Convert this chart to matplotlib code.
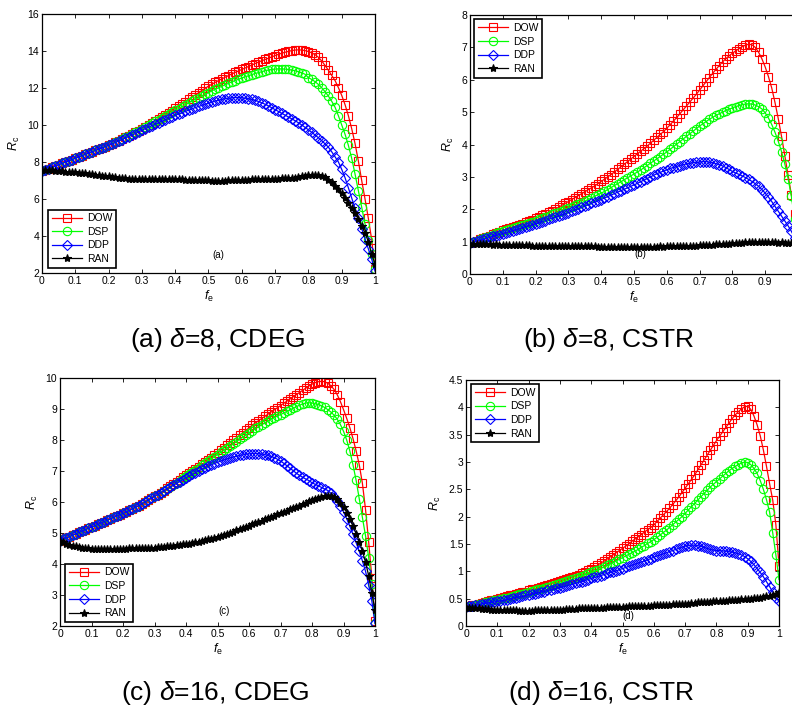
import matplotlib.pyplot as plt
import numpy as np

plt.rcParams['font.family'] = ['Liberation Sans', 'DejaVu Sans']
plt.rcParams['mathtext.fontset'] = 'custom'
plt.rcParams['mathtext.rm'] = 'Liberation Sans'
plt.rcParams['mathtext.it'] = 'Liberation Sans:italic'

# f_e grid, step 0.01
fe = np.linspace(0, 1, 101)
labels = ['DOW', 'DSP', 'DDP', 'RAN']

# (a) delta=8, CDEG
a_dow = [7.50, 7.57, 7.64, 7.71, 7.78, 7.85, 7.92, 7.99, 8.06, 8.13,
         8.20, 8.27, 8.34, 8.41, 8.48, 8.55, 8.62, 8.69, 8.76, 8.83,
         8.90, 8.98, 9.07, 9.16, 9.25, 9.34, 9.43, 9.52, 9.61, 9.70,
         9.80, 9.90, 10.01, 10.12, 10.23, 10.34, 10.45, 10.56, 10.67, 10.78,
         10.90, 11.02, 11.14, 11.26, 11.38, 11.50, 11.62, 11.74, 11.86, 11.98,
         12.10, 12.20, 12.30, 12.40, 12.49, 12.58, 12.67, 12.76, 12.84, 12.92,
         13.00, 13.08, 13.16, 13.24, 13.32, 13.40, 13.47, 13.54, 13.61, 13.68,
         13.75, 13.82, 13.88, 13.93, 13.98, 14.02, 14.05, 14.06, 14.05, 14.02,
         13.97, 13.90, 13.80, 13.66, 13.46, 13.22, 12.96, 12.68, 12.40, 12.02,
         11.60, 11.10, 10.50, 9.80, 9.00, 8.05, 7.00, 6.00, 4.95, 3.80,
         2.20]
a_dsp = [7.50, 7.57, 7.64, 7.71, 7.78, 7.85, 7.92, 7.99, 8.06, 8.13,
         8.20, 8.27, 8.34, 8.41, 8.48, 8.55, 8.62, 8.69, 8.76, 8.83,
         8.90, 8.98, 9.07, 9.16, 9.25, 9.34, 9.43, 9.52, 9.61, 9.70,
         9.79, 9.89, 9.99, 10.09, 10.19, 10.29, 10.39, 10.49, 10.59, 10.69,
         10.79, 10.89, 10.99, 11.09, 11.19, 11.29, 11.39, 11.48, 11.57, 11.66,
         11.75, 11.84, 11.93, 12.01, 12.09, 12.17, 12.25, 12.33, 12.40, 12.47,
         12.54, 12.60, 12.66, 12.72, 12.78, 12.83, 12.88, 12.93, 12.97, 13.00,
         13.02, 13.03, 13.03, 13.02, 13.00, 12.97, 12.93, 12.88, 12.82, 12.74,
         12.56, 12.46, 12.34, 12.19, 12.01, 11.80, 11.56, 11.28, 10.96, 10.50,
         10.00, 9.50, 8.90, 8.20, 7.35, 6.45, 5.55, 4.65, 3.80, 3.00,
         2.20]
a_ddp = [7.50, 7.57, 7.64, 7.71, 7.78, 7.85, 7.92, 7.99, 8.06, 8.13,
         8.20, 8.27, 8.34, 8.41, 8.48, 8.55, 8.62, 8.69, 8.76, 8.83,
         8.90, 8.97, 9.05, 9.13, 9.21, 9.29, 9.37, 9.45, 9.53, 9.62,
         9.71, 9.80, 9.88, 9.96, 10.04, 10.12, 10.20, 10.28, 10.36, 10.44,
         10.52, 10.59, 10.66, 10.73, 10.80, 10.87, 10.94, 11.00, 11.06, 11.12,
         11.18, 11.24, 11.29, 11.34, 11.38, 11.42, 11.45, 11.47, 11.48, 11.48,
         11.47, 11.45, 11.42, 11.38, 11.33, 11.27, 11.20, 11.12, 11.03, 10.93,
         10.83, 10.73, 10.63, 10.53, 10.43, 10.33, 10.23, 10.12, 10.00, 9.87,
         9.74, 9.60, 9.46, 9.31, 9.15, 8.98, 8.80, 8.55, 8.28, 8.00,
         7.60, 7.15, 6.60, 6.05, 5.50, 4.95, 4.40, 3.85, 3.30, 2.75,
         2.10]
a_ran = [7.55, 7.56, 7.55, 7.54, 7.52, 7.50, 7.49, 7.48, 7.47, 7.46,
         7.45, 7.43, 7.41, 7.38, 7.36, 7.33, 7.30, 7.28, 7.25, 7.23,
         7.22, 7.20, 7.18, 7.16, 7.14, 7.12, 7.10, 7.09, 7.09, 7.08,
         7.08, 7.09, 7.09, 7.10, 7.10, 7.09, 7.09, 7.08, 7.08, 7.07,
         7.07, 7.06, 7.06, 7.05, 7.05, 7.04, 7.03, 7.02, 7.01, 7.00,
         7.00, 6.99, 6.97, 6.95, 6.96, 6.98, 7.00, 7.02, 7.03, 7.04,
         7.04, 7.05, 7.05, 7.06, 7.06, 7.07, 7.07, 7.08, 7.08, 7.09,
         7.10, 7.10, 7.11, 7.12, 7.13, 7.14, 7.16, 7.19, 7.22, 7.25,
         7.27, 7.29, 7.30, 7.29, 7.25, 7.18, 7.05, 6.90, 6.72, 6.52,
         6.30, 6.05, 5.80, 5.52, 5.22, 4.90, 4.55, 4.15, 3.70, 3.00,
         2.50]

# (b) delta=8, CSTR
b_dow = [0.95, 0.99, 1.03, 1.07, 1.11, 1.15, 1.19, 1.23, 1.27, 1.31,
         1.35, 1.38, 1.42, 1.45, 1.49, 1.52, 1.56, 1.60, 1.64, 1.68,
         1.72, 1.76, 1.81, 1.86, 1.91, 1.96, 2.01, 2.06, 2.12, 2.18,
         2.24, 2.30, 2.36, 2.42, 2.48, 2.54, 2.60, 2.66, 2.72, 2.79,
         2.86, 2.93, 3.00, 3.07, 3.15, 3.23, 3.31, 3.39, 3.47, 3.55,
         3.63, 3.71, 3.79, 3.87, 3.95, 4.04, 4.13, 4.22, 4.31, 4.40,
         4.50, 4.61, 4.72, 4.83, 4.95, 5.07, 5.19, 5.31, 5.43, 5.55,
         5.68, 5.81, 5.94, 6.07, 6.20, 6.32, 6.44, 6.55, 6.65, 6.74,
         6.82, 6.89, 6.96, 7.02, 7.07, 7.10, 7.08, 7.00, 6.85, 6.65,
         6.40, 6.10, 5.75, 5.30, 4.80, 4.25, 3.65, 3.05, 2.45, 1.85,
         1.25]
b_dsp = [0.95, 0.99, 1.03, 1.07, 1.10, 1.14, 1.18, 1.22, 1.26, 1.29,
         1.33, 1.36, 1.39, 1.42, 1.45, 1.48, 1.51, 1.55, 1.58, 1.61,
         1.65, 1.69, 1.72, 1.76, 1.80, 1.84, 1.88, 1.92, 1.96, 2.00,
         2.04, 2.08, 2.12, 2.16, 2.20, 2.25, 2.30, 2.35, 2.40, 2.45,
         2.50, 2.55, 2.61, 2.67, 2.73, 2.79, 2.85, 2.91, 2.97, 3.03,
         3.09, 3.15, 3.21, 3.28, 3.35, 3.42, 3.49, 3.56, 3.63, 3.70,
         3.77, 3.85, 3.93, 4.01, 4.09, 4.17, 4.25, 4.33, 4.41, 4.49,
         4.57, 4.64, 4.71, 4.78, 4.84, 4.90, 4.95, 5.00, 5.05, 5.09,
         5.13, 5.17, 5.20, 5.23, 5.25, 5.26, 5.25, 5.22, 5.17, 5.10,
         4.98, 4.82, 4.62, 4.38, 4.10, 3.78, 3.40, 2.95, 2.40, 1.70,
         0.90]
b_ddp = [0.95, 0.98, 1.01, 1.04, 1.07, 1.10, 1.13, 1.16, 1.19, 1.22,
         1.25, 1.28, 1.31, 1.34, 1.37, 1.40, 1.43, 1.46, 1.49, 1.52,
         1.55, 1.58, 1.62, 1.65, 1.69, 1.72, 1.76, 1.79, 1.83, 1.86,
         1.90, 1.94, 1.98, 2.02, 2.06, 2.10, 2.14, 2.18, 2.22, 2.26,
         2.30, 2.35, 2.39, 2.44, 2.48, 2.53, 2.57, 2.62, 2.66, 2.71,
         2.75, 2.80, 2.85, 2.90, 2.95, 3.00, 3.05, 3.10, 3.14, 3.18,
         3.22, 3.26, 3.29, 3.32, 3.35, 3.38, 3.40, 3.42, 3.44, 3.45,
         3.46, 3.47, 3.47, 3.46, 3.44, 3.41, 3.38, 3.34, 3.29, 3.23,
         3.17, 3.12, 3.08, 3.03, 2.98, 2.92, 2.86, 2.79, 2.71, 2.61,
         2.50, 2.38, 2.24, 2.09, 1.94, 1.79, 1.64, 1.49, 1.32, 1.12,
         0.88]
b_ran = [0.93, 0.94, 0.93, 0.92, 0.93, 0.92, 0.92, 0.91, 0.92, 0.91,
         0.91, 0.90, 0.91, 0.90, 0.90, 0.89, 0.90, 0.89, 0.89, 0.88,
         0.88, 0.87, 0.88, 0.87, 0.87, 0.88, 0.87, 0.87, 0.86, 0.87,
         0.87, 0.86, 0.87, 0.86, 0.86, 0.87, 0.86, 0.86, 0.86, 0.85,
         0.85, 0.84, 0.85, 0.84, 0.84, 0.85, 0.84, 0.84, 0.85, 0.84,
         0.84, 0.85, 0.84, 0.85, 0.85, 0.84, 0.85, 0.85, 0.86, 0.85,
         0.86, 0.86, 0.87, 0.86, 0.87, 0.87, 0.88, 0.87, 0.88, 0.88,
         0.89, 0.89, 0.90, 0.90, 0.91, 0.92, 0.92, 0.93, 0.94, 0.94,
         0.95, 0.96, 0.96, 0.97, 0.98, 0.98, 0.99, 0.99, 1.00, 0.99,
         0.99, 0.98, 0.99, 0.98, 0.97, 0.98, 0.97, 0.96, 0.97, 0.96,
         0.96]

# (c) delta=16, CDEG
c_dow = [4.75, 4.79, 4.84, 4.88, 4.93, 4.97, 5.02, 5.06, 5.11, 5.15,
         5.19, 5.23, 5.28, 5.32, 5.37, 5.41, 5.46, 5.50, 5.55, 5.59,
         5.63, 5.68, 5.73, 5.78, 5.83, 5.88, 5.94, 6.00, 6.06, 6.12,
         6.18, 6.24, 6.30, 6.37, 6.44, 6.51, 6.58, 6.65, 6.72, 6.79,
         6.86, 6.93, 7.00, 7.07, 7.14, 7.21, 7.28, 7.35, 7.43, 7.51,
         7.59, 7.67, 7.75, 7.83, 7.91, 7.99, 8.07, 8.15, 8.23, 8.31,
         8.39, 8.47, 8.55, 8.62, 8.69, 8.76, 8.83, 8.90, 8.97, 9.04,
         9.11, 9.18, 9.25, 9.32, 9.39, 9.46, 9.53, 9.60, 9.67, 9.74,
         9.80, 9.85, 9.88, 9.89, 9.88, 9.83, 9.75, 9.63, 9.46, 9.24,
         8.98, 8.70, 8.40, 8.05, 7.65, 7.20, 6.60, 5.75, 4.70, 3.55,
         2.15]
c_dsp = [4.75, 4.79, 4.84, 4.88, 4.93, 4.97, 5.02, 5.06, 5.11, 5.15,
         5.19, 5.23, 5.28, 5.32, 5.37, 5.41, 5.46, 5.50, 5.55, 5.59,
         5.63, 5.68, 5.73, 5.78, 5.83, 5.88, 5.94, 6.00, 6.06, 6.12,
         6.18, 6.24, 6.30, 6.36, 6.42, 6.48, 6.55, 6.62, 6.69, 6.76,
         6.83, 6.90, 6.97, 7.04, 7.11, 7.18, 7.25, 7.32, 7.39, 7.46,
         7.53, 7.60, 7.67, 7.74, 7.81, 7.88, 7.95, 8.02, 8.09, 8.16,
         8.23, 8.30, 8.37, 8.43, 8.49, 8.55, 8.61, 8.67, 8.72, 8.77,
         8.82, 8.87, 8.92, 8.97, 9.02, 9.07, 9.12, 9.16, 9.19, 9.20,
         9.19, 9.17, 9.14, 9.10, 9.05, 8.98, 8.90, 8.80, 8.67, 8.50,
         8.28, 8.00, 7.65, 7.20, 6.70, 6.10, 5.50, 4.90, 4.20, 3.35,
         2.10]
c_ddp = [4.75, 4.79, 4.84, 4.88, 4.93, 4.97, 5.02, 5.06, 5.11, 5.15,
         5.19, 5.23, 5.28, 5.32, 5.37, 5.41, 5.46, 5.50, 5.55, 5.59,
         5.63, 5.68, 5.73, 5.78, 5.83, 5.88, 5.94, 6.00, 6.06, 6.12,
         6.18, 6.24, 6.30, 6.36, 6.42, 6.48, 6.54, 6.60, 6.66, 6.72,
         6.78, 6.84, 6.89, 6.95, 7.00, 7.05, 7.10, 7.15, 7.20, 7.24,
         7.28, 7.32, 7.36, 7.39, 7.42, 7.45, 7.48, 7.50, 7.52, 7.54,
         7.55, 7.56, 7.56, 7.56, 7.55, 7.53, 7.50, 7.47, 7.43, 7.38,
         7.32, 7.25, 7.17, 7.09, 7.01, 6.93, 6.86, 6.80, 6.74, 6.69,
         6.62, 6.57, 6.52, 6.47, 6.42, 6.37, 6.28, 6.17, 6.04, 5.88,
         5.68, 5.46, 5.22, 4.96, 4.69, 4.41, 4.10, 3.76, 3.32, 2.80,
         2.08]
c_ran = [4.75, 4.70, 4.66, 4.62, 4.59, 4.57, 4.55, 4.53, 4.51, 4.50,
         4.49, 4.48, 4.47, 4.47, 4.47, 4.47, 4.47, 4.48, 4.48, 4.49,
         4.49, 4.49, 4.50, 4.50, 4.50, 4.51, 4.51, 4.51, 4.52, 4.52,
         4.53, 4.54, 4.55, 4.56, 4.57, 4.58, 4.59, 4.60, 4.62, 4.63,
         4.65, 4.66, 4.68, 4.70, 4.72, 4.74, 4.76, 4.79, 4.82, 4.85,
         4.88, 4.91, 4.94, 4.97, 5.00, 5.04, 5.08, 5.12, 5.16, 5.20,
         5.24, 5.28, 5.32, 5.36, 5.40, 5.44, 5.48, 5.52, 5.56, 5.60,
         5.64, 5.68, 5.72, 5.76, 5.80, 5.84, 5.88, 5.92, 5.97, 6.02,
         6.06, 6.10, 6.13, 6.16, 6.18, 6.19, 6.18, 6.15, 6.08, 5.98,
         5.84, 5.66, 5.45, 5.22, 4.98, 4.72, 4.42, 4.05, 3.62, 3.05,
         2.52]

# (d) delta=16, CSTR
d_dow = [0.35, 0.36, 0.38, 0.39, 0.41, 0.42, 0.44, 0.45, 0.47, 0.48,
         0.50, 0.51, 0.53, 0.54, 0.56, 0.57, 0.59, 0.60, 0.62, 0.63,
         0.65, 0.67, 0.68, 0.70, 0.72, 0.73, 0.75, 0.77, 0.79, 0.80,
         0.82, 0.84, 0.86, 0.88, 0.90, 0.92, 0.94, 0.97, 0.99, 1.02,
         1.05, 1.08, 1.11, 1.15, 1.18, 1.22, 1.26, 1.30, 1.34, 1.38,
         1.42, 1.46, 1.50, 1.55, 1.59, 1.63, 1.67, 1.72, 1.76, 1.80,
         1.85, 1.91, 1.97, 2.03, 2.09, 2.15, 2.22, 2.29, 2.36, 2.44,
         2.52, 2.60, 2.68, 2.76, 2.85, 2.94, 3.03, 3.12, 3.21, 3.30,
         3.39, 3.47, 3.55, 3.63, 3.71, 3.79, 3.86, 3.92, 3.97, 4.01,
         4.02, 3.96, 3.84, 3.68, 3.48, 3.22, 2.92, 2.60, 2.30, 1.85,
         1.10]
d_dsp = [0.35, 0.36, 0.37, 0.39, 0.40, 0.41, 0.43, 0.44, 0.45, 0.47,
         0.48, 0.49, 0.51, 0.52, 0.53, 0.55, 0.56, 0.58, 0.59, 0.61,
         0.62, 0.64, 0.65, 0.67, 0.68, 0.70, 0.71, 0.73, 0.75, 0.76,
         0.78, 0.80, 0.82, 0.84, 0.86, 0.88, 0.90, 0.92, 0.94, 0.96,
         0.98, 1.00, 1.03, 1.05, 1.08, 1.11, 1.13, 1.16, 1.19, 1.22,
         1.25, 1.28, 1.31, 1.34, 1.37, 1.40, 1.44, 1.47, 1.51, 1.54,
         1.58, 1.62, 1.66, 1.71, 1.75, 1.80, 1.85, 1.90, 1.95, 2.00,
         2.06, 2.12, 2.18, 2.24, 2.30, 2.36, 2.42, 2.48, 2.54, 2.59,
         2.64, 2.69, 2.74, 2.79, 2.84, 2.88, 2.92, 2.95, 2.98, 3.00,
         2.99, 2.95, 2.88, 2.79, 2.66, 2.50, 2.31, 2.08, 1.70, 1.30,
         0.85]
d_ddp = [0.35, 0.36, 0.37, 0.38, 0.39, 0.40, 0.41, 0.42, 0.43, 0.44,
         0.45, 0.46, 0.47, 0.48, 0.49, 0.51, 0.52, 0.53, 0.54, 0.56,
         0.57, 0.58, 0.59, 0.61, 0.62, 0.63, 0.65, 0.66, 0.67, 0.69,
         0.70, 0.72, 0.73, 0.75, 0.76, 0.78, 0.80, 0.81, 0.83, 0.85,
         0.87, 0.89, 0.90, 0.92, 0.94, 0.96, 0.98, 0.99, 1.01, 1.03,
         1.05, 1.07, 1.09, 1.11, 1.13, 1.15, 1.17, 1.19, 1.21, 1.23,
         1.26, 1.28, 1.30, 1.32, 1.34, 1.36, 1.38, 1.40, 1.42, 1.44,
         1.46, 1.47, 1.48, 1.48, 1.47, 1.46, 1.44, 1.42, 1.40, 1.39,
         1.38, 1.38, 1.37, 1.37, 1.36, 1.35, 1.34, 1.32, 1.30, 1.27,
         1.23, 1.18, 1.12, 1.05, 0.98, 0.90, 0.81, 0.72, 0.62, 0.52,
         0.45]
d_ran = [0.34, 0.33, 0.33, 0.32, 0.32, 0.31, 0.31, 0.31, 0.30, 0.30,
         0.30, 0.30, 0.29, 0.29, 0.29, 0.29, 0.29, 0.28, 0.28, 0.28,
         0.28, 0.28, 0.29, 0.29, 0.29, 0.29, 0.29, 0.30, 0.30, 0.30,
         0.30, 0.30, 0.31, 0.31, 0.31, 0.31, 0.32, 0.32, 0.32, 0.32,
         0.32, 0.33, 0.33, 0.33, 0.33, 0.34, 0.34, 0.34, 0.35, 0.35,
         0.35, 0.35, 0.36, 0.36, 0.36, 0.36, 0.37, 0.37, 0.37, 0.37,
         0.38, 0.38, 0.38, 0.39, 0.39, 0.39, 0.40, 0.40, 0.40, 0.41,
         0.41, 0.41, 0.42, 0.42, 0.43, 0.43, 0.43, 0.44, 0.44, 0.45,
         0.45, 0.46, 0.46, 0.46, 0.47, 0.47, 0.48, 0.48, 0.49, 0.49,
         0.50, 0.50, 0.51, 0.51, 0.52, 0.53, 0.54, 0.55, 0.57, 0.59,
         0.63]

colors = ['#ff0000', '#00ff00', '#0000ff', '#000000']
markers = ['s', 'o', 'D', '*']
msizes = [5.8, 6.0, 4.8, 6.0]

fig = plt.figure(figsize=(7.92, 7.09), dpi=100)

panels = [
    # rect, data, ylim, yticks, tag, tag pos, legend loc, anchor, caption, caption pos, show x=1 label
    ([0.0530, 0.6150, 0.4205, 0.3653], [a_dow, a_dsp, a_ddp, a_ran], (2, 16),
     np.arange(2, 17, 2), '(a)', (0.53, 2.95), 'lower left', (0.018, 0.02),
     r'(a) $\delta$=8, CDEG', (0.275, 0.520), True),
    ([0.5934, 0.6135, 0.4141, 0.3653], [b_dow, b_dsp, b_ddp, b_ran], (0, 8),
     np.arange(0, 9, 1), '(b)', (0.52, 0.62), 'upper left', (0.012, 0.983),
     r'(b) $\delta$=8, CSTR', (0.768, 0.520), False),
    ([0.0758, 0.1171, 0.3977, 0.3498], [c_dow, c_dsp, c_ddp, c_ran], (2, 10),
     np.arange(2, 11, 1), '(c)', (0.52, 2.47), 'lower left', (0.016, 0.016),
     r'(c) $\delta$=16, CDEG', (0.272, 0.022), True),
    ([0.5884, 0.1171, 0.3952, 0.3470], [d_dow, d_dsp, d_ddp, d_ran], (0, 4.5),
     np.arange(0, 4.6, 0.5), '(d)', (0.52, 0.18), 'upper left', (0.016, 0.983),
     r'(d) $\delta$=16, CSTR', (0.759, 0.022), True),
]

xt = np.arange(0, 1.01, 0.1)

for rect, data, ylim, yticks, tag, tagpos, loc, anchor, cap, cappos, last in panels:
    ax = fig.add_axes(rect)
    for vals, lab, c, m, ms in zip(data, labels, colors, markers, msizes):
        assert len(vals) == len(fe), lab
        fc = c if m == '*' else 'none'
        ax.plot(fe, vals, color=c, marker=m, markersize=ms, markerfacecolor=fc,
                markeredgecolor=c, markeredgewidth=0.8, linewidth=0.9, label=lab)
    ax.set_xlim(0, 1)
    ax.set_ylim(*ylim)
    ax.set_xticks(xt)
    xl = ['%g' % round(t, 1) for t in xt]
    if not last:
        xl[-1] = ''   # label for 1 falls outside the picture
    ax.set_xticklabels(xl)
    ax.set_yticks(yticks)
    ax.set_yticklabels(['%g' % t for t in yticks])
    ax.tick_params(direction='in', top=True, right=True, length=3, width=0.6,
                   labelsize=7.5, pad=2)
    for sp in ax.spines.values():
        sp.set_linewidth(0.9)
    ax.set_xlabel(r'$f_\mathrm{e}$', fontsize=9, labelpad=2)
    ax.set_ylabel(r'$R_\mathrm{c}$', fontsize=9, labelpad=4)
    ax.text(tagpos[0], tagpos[1], tag, fontsize=7, ha='center', va='center')
    leg = ax.legend(loc=loc, bbox_to_anchor=anchor, borderaxespad=0, fontsize=7.5,
                    handlelength=2.9, handletextpad=0.5, labelspacing=0.35,
                    borderpad=0.35, fancybox=False, framealpha=1, edgecolor='black')
    leg.get_frame().set_linewidth(1.2)
    fig.text(cappos[0], cappos[1], cap, fontsize=19, ha='center', va='center')

fig.savefig('out.png', dpi=100)
